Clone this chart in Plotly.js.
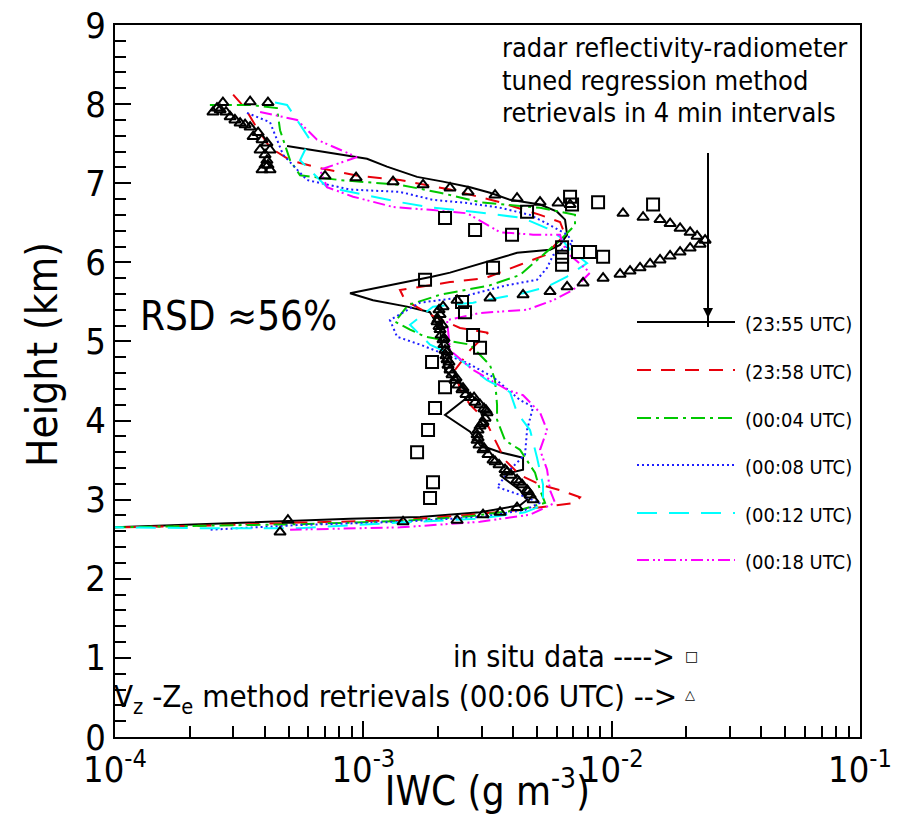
<!DOCTYPE html>
<html>
<head>
<meta charset="utf-8">
<script src="https://cdn.plot.ly/plotly-3.0.1.min.js"></script>
<style>html,body{margin:0;padding:0;background:#fff;}#chart{width:898px;height:814px;}</style>
</head>
<body>
<div id="chart"></div>
<script>
// ---- Data (IWC in g m^-3, height in km) ----
var iwc_2355 = [4.93e-4,7.55e-4,1.035e-3,1.245e-3,1.646e-3,2.094e-3,2.69e-3,3.237e-3,3.897e-3,5.147e-3,6.027e-3,6.49e-3,6.613e-3,6.197e-3,5.647e-3,4.159e-3,3.034e-3,2.234e-3,1.908e-3,1.405e-3,8.84e-4,1.094e-3,1.50e-3,1.856e-3,2.037e-3,2.133e-3,2.69e-3,2.133e-3,2.69e-3,2.951e-3,3.552e-3,4.397e-3,4.397e-3,3.552e-3,4.276e-3,4.563e-3,4.276e-3,2.951e-3,1.692e-3,8.84e-4,5.07e-4,2.30e-4,1.0e-4];
var h_2355   = [7.47,7.38,7.31,7.21,7.08,7.02,6.95,6.88,6.79,6.73,6.64,6.54,6.35,6.22,6.16,6.12,5.99,5.87,5.82,5.74,5.61,5.52,5.44,5.37,5.15,4.64,4.32,4.07,3.86,3.69,3.60,3.53,3.38,3.31,3.12,3.00,2.93,2.84,2.78,2.76,2.73,2.69,2.65];

var iwc_2358 = [2.99e-4,3.34e-4,3.66e-4,4.21e-4,5.07e-4,6.69e-4,9.70e-4,1.405e-3,2.234e-3,3.552e-3,5.147e-3,6.197e-3,6.49e-3,5.392e-3,4.276e-3,3.091e-3,2.234e-3,1.405e-3,1.472e-3,1.856e-3,2.451e-3,3.178e-3,2.69e-3,2.34e-3,2.451e-3,2.69e-3,3.091e-3,3.391e-3,3.72e-3,4.276e-3,5.147e-3,6.197e-3,7.46e-3,7.12e-3,5.392e-3,4.276e-3,2.69e-3,1.405e-3,5.56e-4,2.20e-4,1.0e-4];
var h_2358   = [8.12,7.95,7.74,7.45,7.29,7.19,7.09,7.04,6.92,6.76,6.60,6.51,6.35,6.09,5.97,5.80,5.75,5.65,5.52,5.34,5.17,5.11,4.89,4.64,4.39,4.20,4.01,3.75,3.50,3.31,3.19,3.12,3.03,2.96,2.91,2.87,2.81,2.74,2.71,2.67,2.65];

var iwc_0004 = [2.41e-4,3.50e-4,4.49e-4,4.62e-4,5.07e-4,5.56e-4,8.06e-4,1.405e-3,2.037e-3,2.951e-3,5.147e-3,7.12e-3,7.12e-3,6.197e-3,5.147e-3,4.276e-3,3.237e-3,2.037e-3,1.514e-3,1.342e-3,1.542e-3,1.772e-3,2.69e-3,3.237e-3,3.391e-3,3.455e-3,3.455e-3,3.72e-3,4.276e-3,4.914e-3,5.147e-3,5.392e-3,4.276e-3,2.69e-3,1.405e-3,5.56e-4,2.20e-4,1.0e-4];
var h_0004   = [7.99,7.99,7.95,7.67,7.29,7.10,7.04,6.98,6.88,6.76,6.69,6.60,6.47,6.28,6.06,5.84,5.71,5.59,5.46,5.25,5.15,5.06,4.96,4.70,4.51,4.20,4.01,3.75,3.63,3.34,3.12,2.96,2.87,2.79,2.73,2.69,2.67,2.65];

var iwc_0008 = [3.40e-4,4.21e-4,4.75e-4,5.21e-4,5.93e-4,8.84e-4,1.405e-3,1.908e-3,2.615e-3,3.552e-3,4.691e-3,5.647e-3,6.613e-3,6.99e-3,5.808e-3,5.493e-3,5.006e-3,3.79e-3,2.384e-3,1.692e-3,1.28e-3,1.367e-3,1.692e-3,2.615e-3,3.329e-3,4.276e-3,4.824e-3,4.563e-3,4.479e-3,3.897e-3,3.455e-3,4.276e-3,5.147e-3,4.479e-3,2.951e-3,1.405e-3,5.56e-4,2.41e-4];
var h_0008   = [7.89,7.77,7.36,7.23,7.04,6.92,6.89,6.79,6.75,6.69,6.60,6.47,6.35,6.25,6.09,5.93,5.78,5.71,5.55,5.49,5.27,5.06,4.96,4.73,4.55,4.26,4.17,3.88,3.57,3.38,3.16,3.06,2.96,2.87,2.78,2.72,2.68,2.62];

var iwc_0012 = [4.41e-4,4.93e-4,6.10e-4,5.56e-4,7.14e-4,8.84e-4,1.405e-3,1.908e-3,2.766e-3,4.397e-3,5.493e-3,6.197e-3,6.799e-3,7.96e-3,6.613e-3,5.493e-3,4.397e-3,2.766e-3,1.908e-3,1.542e-3,1.856e-3,2.384e-3,3.149e-3,3.897e-3,4.159e-3,4.691e-3,5.006e-3,5.292e-3,5.292e-3,4.479e-3,2.951e-3,1.405e-3,5.56e-4,2.20e-4,1.0e-4];
var h_0012   = [8.02,7.99,7.55,7.29,6.95,6.89,6.76,6.69,6.64,6.56,6.43,6.32,6.16,5.99,5.82,5.69,5.61,5.49,5.44,5.21,4.96,4.80,4.51,4.36,4.10,3.88,3.53,3.19,2.93,2.84,2.76,2.71,2.64,2.64,2.65];

var iwc_0018 = [3.84e-4,5.41e-4,6.51e-4,9.43e-4,6.69e-4,7.14e-4,9.09e-4,1.317e-3,1.908e-3,2.615e-3,3.552e-3,4.824e-3,6.197e-3,6.372e-3,6.799e-3,8.185e-3,6.99e-3,5.808e-3,4.563e-3,2.951e-3,2.173e-3,2.234e-3,2.766e-3,3.79e-3,4.397e-3,5.147e-3,5.493e-3,5.147e-3,5.493e-3,5.647e-3,5.916e-3,4.691e-3,2.951e-3,1.405e-3,5.07e-4];
var h_0018   = [7.90,7.80,7.55,7.33,7.17,6.95,6.83,6.70,6.66,6.62,6.38,6.35,6.35,6.22,6.09,5.87,5.65,5.52,5.40,5.36,5.27,4.89,4.64,4.39,4.32,4.10,3.88,3.63,3.38,3.12,2.96,2.81,2.72,2.65,2.62];

// V_z - Z_e method retrievals (00:06 UTC)
var iwc_vz = [2.48e-4,2.65e-4,2.72e-4,2.91e-4,3.19e-4,3.50e-4,3.50e-4,4.13e-4,3.60e-4,4.09e-4,4.09e-4,4.21e-4,4.02e-4,4.21e-4,9.35e-4,7.01e-4,1.317e-3,1.74e-3,2.234e-3,2.64e-3,3.391e-3,4.159e-3,5.147e-3,6.083e-3,6.799e-3,1.111e-2,1.338e-2,1.566e-2,1.719e-2,1.886e-2,2.07e-2,2.208e-2,2.378e-2,2.27e-2,2.07e-2,1.886e-2,1.719e-2,1.566e-2,1.428e-2,1.301e-2,1.186e-2,1.081e-2,9.236e-3,7.67e-3,6.613e-3,5.647e-3,4.397e-3,3.237e-3,2.384e-3,2.094e-3,2.037e-3,1.981e-3,2.037e-3,2.094e-3,2.133e-3,2.173e-3,2.234e-3,2.34e-3,2.497e-3,2.69e-3,2.951e-3,3.149e-3,3.034e-3,2.897e-3,2.871e-3,3.034e-3,3.329e-3,3.72e-3,4.159e-3,4.563e-3,4.824e-3,4.159e-3,3.552e-3,3.034e-3,2.384e-3,1.445e-3,4.97e-4,4.62e-4,2.0e-3,2.018e-3,2.056e-3,2.113e-3,2.153e-3,2.193e-3,2.276e-3,2.406e-3,2.591e-3,2.818e-3,3.062e-3,3.091e-3,2.951e-3,2.871e-3,2.924e-3,3.178e-3,3.519e-3,3.933e-3,4.356e-3,4.691e-3,2.575e-4,2.80e-4,3.04e-4,3.34e-4,3.77e-4,3.91e-4,3.84e-4,4.02e-4,3.91e-4,4.13e-4,2.018e-3,2.075e-3,2.113e-3,2.173e-3,2.213e-3,2.362e-3,2.52e-3,2.791e-3,3.12e-3,3.006e-3,2.897e-3,3.062e-3,3.391e-3,3.79e-3,4.236e-3,4.605e-3];
var h_vz   = [7.90,7.93,8.02,7.84,7.76,7.71,8.03,8.02,7.59,7.51,7.29,7.17,7.23,7.42,7.07,7.09,7.02,6.98,6.94,6.89,6.85,6.81,6.76,6.75,6.73,6.62,6.57,6.54,6.49,6.43,6.38,6.33,6.28,6.23,6.18,6.13,6.08,6.03,5.98,5.93,5.89,5.85,5.80,5.74,5.69,5.63,5.59,5.55,5.52,5.44,5.34,5.25,5.15,5.02,4.89,4.77,4.64,4.51,4.39,4.29,4.20,4.10,3.98,3.88,3.75,3.63,3.50,3.38,3.25,3.12,3.00,2.90,2.84,2.81,2.74,2.72,2.74,2.59,5.28,5.19,5.08,4.96,4.82,4.70,4.58,4.45,4.33,4.23,4.15,4.03,3.93,3.82,3.69,3.57,3.44,3.31,3.19,3.06,7.95,7.90,7.80,7.74,7.64,7.55,7.42,7.36,7.17,7.23,5.40,5.21,5.04,4.87,4.74,4.54,4.41,4.29,4.13,3.96,3.78,3.65,3.48,3.35,3.22,3.10];

// in situ data
var iwc_insitu = [2.133e-3,2.818e-3,3.97e-3,4.563e-3,6.799e-3,6.926e-3,8.816e-3,1.468e-2,3.329e-3,1.772e-3,2.497e-3,2.567e-3,2.766e-3,2.951e-3,1.891e-3,2.133e-3,1.944e-3,1.822e-3,1.646e-3,1.908e-3,1.856e-3,6.313e-3,6.313e-3,6.313e-3,7.32e-3,8.185e-3,9.236e-3];
var h_insitu   = [6.56,6.41,6.35,6.64,6.83,6.73,6.76,6.73,5.93,5.78,5.50,5.37,5.08,4.92,4.74,4.42,4.16,3.88,3.60,3.22,3.02,6.19,6.07,5.97,6.13,6.13,6.07];

var seriesNames = ['(23:55 UTC)','(23:58 UTC)','(00:04 UTC)','(00:08 UTC)','(00:12 UTC)','(00:18 UTC)'];
var seriesColors = ['#000000','#e8000b','#00c800','#1e1eff','#00ffff','#ff00ff'];
var seriesDash = ['solid','14px,10px','14px,5px,3px,5px','2px,3px','20px,12px','12px,4px,2px,3px,2px,4px'];
var yTicks = [0,1,2,3,4,5,6,7,8,9];
var xTickVals = [1e-4,1e-3,1e-2,1e-1];
var xTickText = ['10<sup>-4</sup>','10<sup>-3</sup>','10<sup>-2</sup>','10<sup>-1</sup>'];

var xs = [iwc_2355,iwc_2358,iwc_0004,iwc_0008,iwc_0012,iwc_0018];
var ys = [h_2355,h_2358,h_0004,h_0008,h_0012,h_0018];

var FONT = 'Liberation Sans Narrow, DejaVu Sans Condensed, Liberation Sans, Arial, sans-serif';

var traces = [];
for (var i = 0; i < xs.length; i++) {
  traces.push({x: xs[i], y: ys[i], type: 'scatter', mode: 'lines', name: seriesNames[i],
    line: {color: seriesColors[i], width: 2, dash: seriesDash[i]}, hoverinfo: 'skip'});
}
traces.push({x: iwc_insitu, y: h_insitu, type: 'scatter', mode: 'markers', name: 'in situ',
  marker: {symbol: 'square-open', size: 12, color: '#000', line: {width: 2, color: '#000'}}});
traces.push({x: iwc_vz, y: h_vz, type: 'scatter', mode: 'markers', name: 'Vz-Ze',
  marker: {symbol: 'triangle-up-open', size: 10, color: '#000', line: {width: 2, color: '#000'}}});

// paper coordinate helpers (plot area: x 115..860, y 25..737)
function px(x){ return (x-115)/745; }
function py(y){ return (737-y)/712; }

var shapes = [];
var annotations = [];
var legY = [322,370,418,465,513,560];
for (var j = 0; j < 6; j++) {
  shapes.push({type:'line', xref:'paper', yref:'paper', x0:px(637), x1:px(735), y0:py(legY[j]), y1:py(legY[j]),
    line:{color: seriesColors[j], width: 2, dash: seriesDash[j]}});
  annotations.push({xref:'paper', yref:'paper', x:px(743), y:py(legY[j]+2), xanchor:'left', yanchor:'middle',
    text: seriesNames[j], showarrow:false, font:{family: FONT, size: 20, color:'#000'}});
}
// vertical arrow
shapes.push({type:'line', xref:'paper', yref:'paper', x0:px(708), x1:px(708), y0:py(153), y1:py(327),
  line:{color:'#000', width:2}});
annotations.push({xref:'paper', yref:'paper', x:px(708), y:py(318), ax:0, ay:-20, showarrow:true,
  arrowhead:2, arrowsize:1, arrowwidth:2, arrowcolor:'#000', text:''});

var topLines = ['radar reflectivity-radiometer','tuned regression method','retrievals in 4 min intervals'];
var topY = [47,80,113];
for (var k = 0; k < 3; k++) {
  annotations.push({xref:'paper', yref:'paper', x:px(500), y:py(topY[k]), xanchor:'left', yanchor:'middle',
    text: topLines[k], showarrow:false, font:{family: FONT, size: 27, color:'#000'}});
}
annotations.push({xref:'paper', yref:'paper', x:px(138), y:py(316), xanchor:'left', yanchor:'middle',
  text:'RSD \u224856%', showarrow:false, font:{family: FONT, size: 40, color:'#000'}});
annotations.push({xref:'paper', yref:'paper', x:px(686), y:py(656), xanchor:'right', yanchor:'middle',
  text:'in situ data ----> ', showarrow:false, font:{family: FONT, size: 30, color:'#000'}});
annotations.push({xref:'paper', yref:'paper', x:px(691), y:py(656), xanchor:'center', yanchor:'middle',
  text:'\u25A1', showarrow:false, font:{family: 'DejaVu Sans', size: 14, color:'#000'}});
annotations.push({xref:'paper', yref:'paper', x:px(688), y:py(698), xanchor:'right', yanchor:'middle',
  text:'V<sub>z</sub> -Z<sub>e</sub> method retrievals (00:06 UTC) --> ', showarrow:false, font:{family: FONT, size: 31, color:'#000'}});
annotations.push({xref:'paper', yref:'paper', x:px(690), y:py(694), xanchor:'center', yanchor:'middle',
  text:'\u25B3', showarrow:false, font:{family: 'DejaVu Sans', size: 13, color:'#000'}});
// y-axis title placed like the reference (slightly above plot centre)
annotations.push({xref:'paper', yref:'paper', x:px(42), y:py(355), xanchor:'center', yanchor:'middle',
  text:'Height (km)', textangle:-90, showarrow:false, font:{family: FONT, size: 42, color:'#000'}});

var minorX = [];
[1e-4,1e-3,1e-2].forEach(function(d){ for (var m = 2; m <= 9; m++) minorX.push(m*d); });

var layout = {
  width: 898, height: 814,
  margin: {l:115, r:38, t:25, b:77},
  paper_bgcolor:'#fff', plot_bgcolor:'#fff',
  showlegend: false,
  font: {family: FONT, color:'#000'},
  xaxis: {type:'log', range:[-4,-1], tickmode:'array', tickvals:xTickVals, ticktext:xTickText,
    ticks:'inside', ticklen:16, tickwidth:2, tickcolor:'#000',
    showline:true, mirror:true, linecolor:'#000', linewidth:2, showgrid:false, zeroline:false,
    tickfont:{family: FONT, size:36, color:'#000'},
    minor:{tickmode:'array', tickvals:minorX, ticks:'inside', ticklen:11, tickwidth:2, tickcolor:'#000', showgrid:false},
    title:{text:'IWC (g m<sup>-3</sup>)', font:{family: FONT, size:40, color:'#000'}, standoff:2}},
  yaxis: {range:[0,9], tickmode:'array', tickvals:yTicks, ticks:'inside', ticklen:16, tickwidth:2, tickcolor:'#000',
    showline:true, mirror:true, linecolor:'#000', linewidth:2, showgrid:false, zeroline:false,
    tickfont:{family: FONT, size:36, color:'#000'},
    minor:{dtick:0.2, ticks:'inside', ticklen:11, tickwidth:2, tickcolor:'#000', showgrid:false}},
  shapes: shapes,
  annotations: annotations
};

Plotly.newPlot('chart', traces, layout, {displayModeBar:false, staticPlot:true});
</script>
</body>
</html>
